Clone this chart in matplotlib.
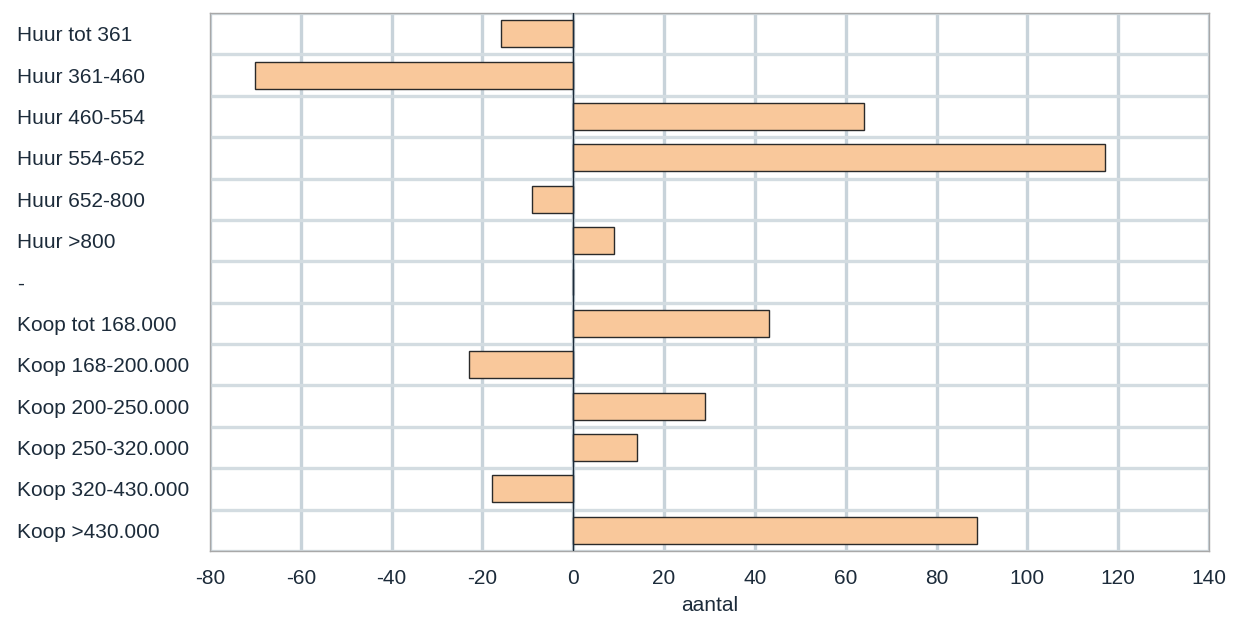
import matplotlib.pyplot as plt
from matplotlib import font_manager
import numpy as np

categories = [
    'Huur tot 361', 'Huur 361-460', 'Huur 460-554', 'Huur 554-652',
    'Huur 652-800', 'Huur >800', '-', 'Koop tot 168.000',
    'Koop 168-200.000', 'Koop 200-250.000', 'Koop 250-320.000',
    'Koop 320-430.000', 'Koop >430.000',
]
values = [-16, -70, 64, 117, -9, 9, 0, 43, -23, 29, 14, -18, 89]
xticks = [-80, -60, -40, -20, 0, 20, 40, 60, 80, 100, 120, 140]

text_color = '#1c2b3a'
grid_color = '#c8d3da'

# narrow font if we have it, else a slightly smaller regular one
installed = {f.name for f in font_manager.fontManager.ttflist}
if 'Liberation Sans Narrow' in installed:
    plt.rcParams['font.family'] = ['Liberation Sans Narrow', 'DejaVu Sans']
    fs = 17
else:
    plt.rcParams['font.family'] = ['Liberation Sans', 'DejaVu Sans']
    fs = 15

fig = plt.figure(figsize=(12.59, 6.29), dpi=100)
ax = fig.add_axes([210 / 1259, 1 - 551 / 629, 999 / 1259, 538 / 629])

y = np.arange(len(categories))
ax.barh(y, values, height=0.65, color='#f9c89b', edgecolor='#2a2a2a', linewidth=1, zorder=3)
ax.axvline(0, color='#1c2b3a', linewidth=1, zorder=4)

ax.set_xlim(-80, 140)
ax.set_ylim(len(categories) - 0.5, -0.5)
ax.set_xticks(xticks)
ax.set_xticklabels([str(v) for v in xticks], fontsize=fs, color=text_color)
ax.set_yticks(y)
ax.set_yticklabels(categories, fontsize=fs, color=text_color, ha='left')
ax.set_yticks(np.arange(len(categories) + 1) - 0.5, minor=True)
ax.tick_params(axis='y', which='both', length=0, pad=193 * 0.72)
ax.tick_params(axis='x', length=0, pad=13)

ax.grid(axis='x', which='major', color=grid_color, linewidth=2.4, zorder=0)
ax.grid(axis='y', which='minor', color='#d3dce1', linewidth=2.4, zorder=0)
ax.set_axisbelow(True)

for s in ax.spines.values():
    s.set_color('#a8a8a8')
    s.set_linewidth(1)

ax.set_xlabel('aantal', fontsize=fs, color=text_color, labelpad=6)

fig.savefig('out.png', dpi=100)
